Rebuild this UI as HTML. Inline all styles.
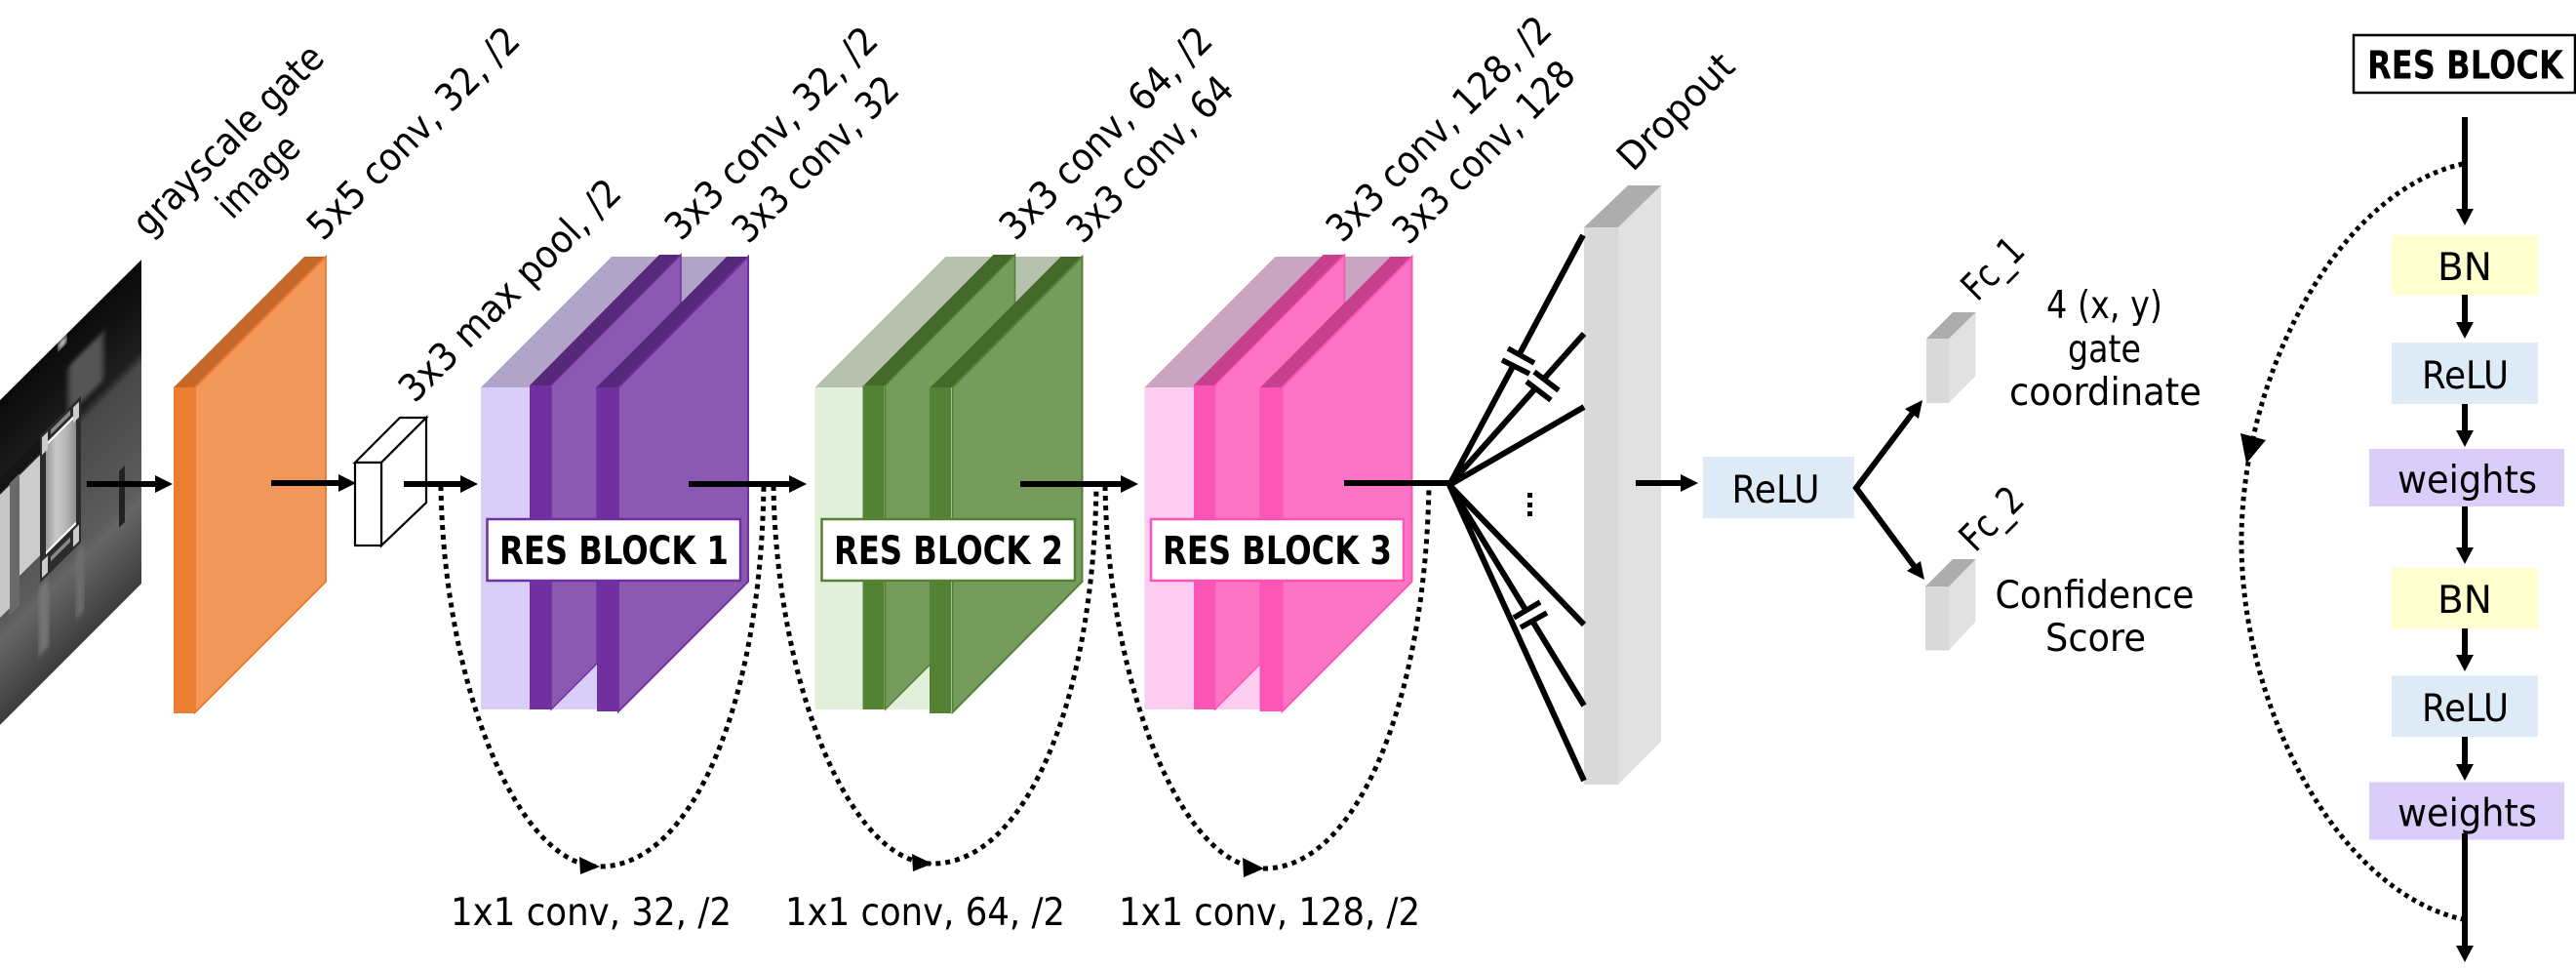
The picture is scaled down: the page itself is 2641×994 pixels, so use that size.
<!DOCTYPE html>
<html><head><meta charset="utf-8"><style>
html,body{margin:0;padding:0;background:#fff}
svg{display:block}
text{font-family:"DejaVu Sans","Liberation Sans",sans-serif;font-size:39px;fill:#000}
.b{font-weight:bold;font-size:40px}
</style></head><body>
<svg width="2641" height="994" viewBox="0 0 2641 994" xmlns="http://www.w3.org/2000/svg">
<defs>
<clipPath id="ph"><polygon points="0,410 145,266 145,598 0,743"/></clipPath>
<linearGradient id="bg" x1="0" y1="0" x2="0" y2="1">
<stop offset="0" stop-color="#0a0a0a"/><stop offset=".28" stop-color="#1e1e1e"/><stop offset=".32" stop-color="#484848"/><stop offset=".7" stop-color="#5c5c5c"/><stop offset=".74" stop-color="#666"/><stop offset="1" stop-color="#3c3c3c"/></linearGradient>
<linearGradient id="gt" x1="0" y1="0" x2="1" y2="0"><stop offset="0" stop-color="#9a9a9a"/><stop offset=".35" stop-color="#c8c8c8"/><stop offset=".7" stop-color="#b4b4b4"/><stop offset="1" stop-color="#8c8c8c"/></linearGradient>
<filter id="bl"><feGaussianBlur stdDeviation="3"/></filter>
</defs>

<!-- photo -->
<g clip-path="url(#ph)"><g transform="matrix(1,-0.993,0,1,0,0)">
<rect x="0" y="410" width="145" height="333" fill="url(#bg)"/>
<rect x="70" y="445" width="36" height="50" fill="#555" filter="url(#bl)"/>
<rect x="0" y="507" width="10" height="126" fill="#c8c8c8"/>
<rect x="20" y="507" width="21" height="103" fill="#cccccc"/>
<rect x="10" y="500" width="10" height="140" fill="#6a6a6a"/>
<rect x="0" y="490" width="42" height="15" fill="#141414"/>
<rect x="41" y="488" width="42" height="150" fill="#2c2c2c"/>
<rect x="47" y="503" width="31" height="110" fill="url(#gt)"/>
<rect x="47" y="501" width="31" height="3" fill="#fff"/><rect x="47" y="612" width="31" height="3" fill="#fff"/>
<rect x="43" y="491" width="6" height="18" fill="#ccc"/><rect x="75" y="492" width="6" height="16" fill="#ccc"/>
<rect x="43" y="618" width="6" height="17" fill="#ccc"/><rect x="75" y="618" width="6" height="17" fill="#ccc"/>
<rect x="52" y="492" width="20" height="5" fill="#888"/><rect x="52" y="622" width="20" height="5" fill="#888"/>
<rect x="122" y="604" width="6" height="58" fill="#222"/>
<rect x="60" y="411" width="8" height="8" fill="#fff" filter="url(#bl)"/>
<rect x="40" y="642" width="10" height="70" fill="#777" filter="url(#bl)"/>
<rect x="78" y="642" width="8" height="70" fill="#707070" filter="url(#bl)"/>
</g></g>

<!-- orange -->
<polygon points="178,397 312,263 334,263 200,397" fill="#c5682a"/>
<polygon points="200,397 334,263 334,596 200,730" fill="#f1975a" stroke="#ed7d31" stroke-width="2"/>
<rect x="178" y="397" width="22" height="334" fill="#ed7d31"/>

<!-- small box -->
<g fill="#fff" stroke="#000" stroke-width="2.200" stroke-linejoin="miter">
<polygon points="364,474 391,474 437,428 410,428"/>
<polygon points="391,474 437,428 437,515 391,559"/>
<rect x="364" y="474" width="27" height="85"/>
</g>

<!-- purple block -->
<g>
<rect x="493" y="397" width="122" height="330" fill="#d9cdf9"/>
<polygon points="493,397 627,263 745,263 612,397" fill="#b0a5c8"/>
<polygon points="543,395 676,261 698,261 565,395" fill="#56287a"/>
<polygon points="565,395 698,261 698,314 612,397 612,680 565,727" fill="#8b59b1" stroke="#7030a0" stroke-width="1.500"/>
<rect x="543" y="395" width="22" height="332" fill="#7030a0"/>
<polygon points="612,397 745,263 767,263 634,397" fill="#56287a"/>
<polygon points="634,397 767,263 767,596 634,729" fill="#8b59b1" stroke="#7030a0" stroke-width="2"/>
<rect x="612" y="397" width="22" height="332" fill="#7030a0"/>
</g>
<rect x="499.500" y="532" width="259.500" height="63" fill="#fff" stroke="#7030a0" stroke-width="2.500"/>
<text class="b" x="512" y="578" textLength="235" lengthAdjust="spacingAndGlyphs">RES BLOCK 1</text>

<!-- green block -->
<g transform="translate(342.500,0)">
<rect x="493" y="397" width="122" height="330" fill="#e2efda"/>
<polygon points="493,397 627,263 745,263 612,397" fill="#b7c2ae"/>
<polygon points="543,395 676,261 698,261 565,395" fill="#436a2a"/>
<polygon points="565,395 698,261 698,314 612,397 612,680 565,727" fill="#769c5d" stroke="#548235" stroke-width="1.500"/>
<rect x="542" y="395" width="22" height="332" fill="#548235"/>
<polygon points="612,397 745,263 767,263 634,397" fill="#436a2a"/>
<polygon points="634,397 767,263 767,596 634,730" fill="#769c5d" stroke="#548235" stroke-width="2"/>
<rect x="610.500" y="397" width="22" height="334" fill="#548235"/>
</g>
<rect x="842.500" y="532" width="259.500" height="63" fill="#fff" stroke="#548235" stroke-width="2.500"/>
<text class="b" x="855" y="578" textLength="235" lengthAdjust="spacingAndGlyphs">RES BLOCK 2</text>

<!-- pink block -->
<g transform="translate(680.500,0)">
<rect x="493" y="397" width="122" height="330" fill="#fccdf1"/>
<polygon points="493,397 627,263 745,263 612,397" fill="#c9a5c1"/>
<polygon points="543,395 676,261 698,261 565,395" fill="#c6408e"/>
<polygon points="565,395 698,261 698,314 612,397 612,680 565,727" fill="#fc74c3" stroke="#fc55b5" stroke-width="1.500"/>
<rect x="543.500" y="395" width="22" height="332" fill="#fc55b5"/>
<polygon points="612,397 745,263 767,263 634,397" fill="#c6408e"/>
<polygon points="634,397 767,263 767,596 634,729" fill="#fc74c3" stroke="#fc55b5" stroke-width="2"/>
<rect x="611" y="397" width="22" height="332" fill="#fc55b5"/>
</g>
<rect x="1180" y="532" width="259" height="63" fill="#fff" stroke="#fc55b5" stroke-width="2.500"/>
<text class="b" x="1192" y="578" textLength="235" lengthAdjust="spacingAndGlyphs">RES BLOCK 3</text>

<!-- dropout -->
<polygon points="1659,233 1703,190 1703,760 1659,804" fill="#e1e1e1"/>
<polygon points="1624,233 1669,190 1703,190 1659,233" fill="#adadad"/>
<rect x="1624" y="233" width="35" height="571" fill="#d9d9d9"/>

<!-- Fc boxes -->
<polygon points="1998,347 2025.500,320 2025.500,385 1998,413" fill="#e1e1e1"/>
<polygon points="1975,347 2002,320 2025.500,320 1998,347" fill="#adadad"/>
<rect x="1975" y="347" width="23" height="66" fill="#d9d9d9"/>
<polygon points="1998,601 2025.500,573 2025.500,637 1998,666.500" fill="#e1e1e1"/>
<polygon points="1974,601 2002,573 2025.500,573 1998,601" fill="#adadad"/>
<rect x="1974" y="601" width="24" height="65.500" fill="#d9d9d9"/>

<!-- ReLU -->
<rect x="1746" y="468" width="155" height="63" fill="#deebf7"/>
<text x="1775.500" y="515" textLength="90" lengthAdjust="spacingAndGlyphs">ReLU</text>

<!-- main arrows -->
<g stroke="#000" stroke-width="6" fill="none">
<path d="M89 496H162"/><path d="M278 495H350"/><path d="M414 496H475"/><path d="M706 496H812"/><path d="M1046 496H1152"/><path d="M1677 495H1726"/>
<path d="M1378 495H1486"/>
<path d="M1961 423L1903 500L1963 581"/>
</g>
<g fill="#000">
<polygon points="177,496 159,487 159,505"/>
<polygon points="365,495 347,486 347,504"/>
<polygon points="490,496 472,487 472,505"/>
<polygon points="827,496 809,487 809,505"/>
<polygon points="1167,496 1149,487 1149,505"/>
<polygon points="1741,495 1723,486 1723,504"/>
<polygon points="1971,410 1967,429 1953,419"/>
<polygon points="1973,594 1955,585 1969,575"/>
</g>

<!-- fan -->
<g stroke="#000" stroke-width="6" fill="none">
<path d="M1486 497L1623 241"/><path d="M1486 497L1624 342"/><path d="M1486 497L1624 417"/>
<path d="M1486 497L1624 640"/><path d="M1486 497L1624 723"/><path d="M1486 497L1624 800"/>
</g>
<g stroke="#fff" stroke-width="14">
<path d="M1543 363L1570 377"/><path d="M1569 386L1594 405"/><path d="M1555 638L1582 622"/>
</g>
<g stroke="#000" stroke-width="5.500">
<path d="M1546 357L1573 372M1540 369L1568 383"/>
<path d="M1573 381L1598 400M1565 391L1590 410"/>
<path d="M1552 633L1579 617M1559 643L1586 628"/>
</g>
<g fill="#000"><rect x="1566" y="505" width="5" height="5"/><rect x="1566" y="515" width="5" height="5"/><rect x="1566" y="524" width="5" height="5"/></g>

<!-- dotted skips -->
<g fill="none" stroke="#000" stroke-width="5" stroke-dasharray="5 5">
<path d="M452 498C455 700 530 888 615 888C710 888 780 720 783 498"/>
<path d="M793 498C796 700 871 885 956 885C1051 885 1121 720 1124 498"/>
<path d="M1133 498C1136 700 1211 890 1296 890C1391 890 1461 720 1465 498"/>
</g>
<g fill="#000">
<polygon points="615,888 594,878 595,896"/>
<polygon points="956,885 935,875 936,893"/>
<polygon points="1296,890 1274,879 1275,899"/>
</g>

<!-- right stack -->
<rect x="2413" y="36" width="227" height="59" fill="#fff" stroke="#000" stroke-width="2.500"/>
<text class="b" x="2427" y="80.500" textLength="201" lengthAdjust="spacingAndGlyphs">RES BLOCK</text>
<rect x="2452" y="241" width="150" height="61.500" fill="#ffffd0"/>
<rect x="2452" y="351" width="150" height="63" fill="#deebf7"/>
<rect x="2429" y="460" width="200" height="59" fill="#dacdf9"/>
<rect x="2452" y="582" width="150" height="62" fill="#ffffd0"/>
<rect x="2452" y="692.500" width="150" height="62.500" fill="#deebf7"/>
<rect x="2429" y="801.500" width="200" height="59" fill="#dacdf9"/>
<text x="2527" y="287" text-anchor="middle">BN</text>
<text x="2483" y="398" textLength="89" lengthAdjust="spacingAndGlyphs">ReLU</text>
<text x="2458" y="505" textLength="143" lengthAdjust="spacingAndGlyphs">weights</text>
<text x="2527" y="628" text-anchor="middle">BN</text>
<text x="2483" y="739" textLength="89" lengthAdjust="spacingAndGlyphs">ReLU</text>
<text x="2458" y="846.500" textLength="143" lengthAdjust="spacingAndGlyphs">weights</text>
<g stroke="#000" stroke-width="6" fill="none">
<path d="M2527 120V216"/><path d="M2527 302V332"/><path d="M2527 414V443"/><path d="M2527 519V563"/><path d="M2527 644V673"/><path d="M2527 755V785"/><path d="M2527 854V972"/>
</g>
<g fill="#000">
<polygon points="2527,231 2518,214 2536,214"/>
<polygon points="2527,347 2518,330 2536,330"/>
<polygon points="2527,458 2518,441 2536,441"/>
<polygon points="2527,578 2518,561 2536,561"/>
<polygon points="2527,688 2518,671 2536,671"/>
<polygon points="2527,800 2518,783 2536,783"/>
<polygon points="2527,986 2518,969 2536,969"/>
<polygon points="2303,475 2297,444 2323,451"/>
</g>
<path d="M2525 168C2400 195 2298 380 2298 555C2298 730 2400 915 2525 942" fill="none" stroke="#000" stroke-width="5" stroke-dasharray="4.500 4.500"/>

<!-- horizontal labels -->
<text x="462" y="948" textLength="288" lengthAdjust="spacingAndGlyphs">1x1 conv, 32, /2</text>
<text x="805" y="948" textLength="287" lengthAdjust="spacingAndGlyphs">1x1 conv, 64, /2</text>
<text x="1147" y="948" textLength="309" lengthAdjust="spacingAndGlyphs">1x1 conv, 128, /2</text>
<text x="2098" y="326" textLength="119" lengthAdjust="spacingAndGlyphs">4 (x, y)</text>
<text x="2120" y="371" textLength="75" lengthAdjust="spacingAndGlyphs">gate</text>
<text x="2060" y="415" textLength="197" lengthAdjust="spacingAndGlyphs">coordinate</text>
<text x="2045.500" y="623" textLength="204" lengthAdjust="spacingAndGlyphs">Confidence</text>
<text x="2097" y="667" textLength="103" lengthAdjust="spacingAndGlyphs">Score</text>

<!-- rotated labels -->
<text transform="translate(152,244) rotate(-45)" textLength="258" lengthAdjust="spacingAndGlyphs">grayscale gate</text>
<text transform="translate(238,226) rotate(-45)" textLength="102" lengthAdjust="spacingAndGlyphs">image</text>
<text transform="translate(331,248) rotate(-45)" textLength="289" lengthAdjust="spacingAndGlyphs">5x5 conv, 32, /2</text>
<text transform="translate(425,414) rotate(-45)" textLength="303" lengthAdjust="spacingAndGlyphs">3x3 max pool, /2</text>
<text transform="translate(698,248) rotate(-45)" textLength="289" lengthAdjust="spacingAndGlyphs">3x3 conv, 32, /2</text>
<text transform="translate(767,251) rotate(-45)" textLength="222" lengthAdjust="spacingAndGlyphs">3x3 conv, 32</text>
<text transform="translate(1041,248) rotate(-45)" textLength="289" lengthAdjust="spacingAndGlyphs">3x3 conv, 64, /2</text>
<text transform="translate(1110,251) rotate(-45)" textLength="222" lengthAdjust="spacingAndGlyphs">3x3 conv, 64</text>
<text transform="translate(1376,250) rotate(-45)" textLength="307" lengthAdjust="spacingAndGlyphs">3x3 conv, 128, /2</text>
<text transform="translate(1444,252) rotate(-45)" textLength="245" lengthAdjust="spacingAndGlyphs">3x3 conv, 128</text>
<text transform="translate(1674,177) rotate(-45)" textLength="151" lengthAdjust="spacingAndGlyphs">Dropout</text>
<text transform="translate(2027,310) rotate(-45)" textLength="72" lengthAdjust="spacingAndGlyphs">Fc_1</text>
<text transform="translate(2025,567) rotate(-45)" textLength="74" lengthAdjust="spacingAndGlyphs">Fc_2</text>
</svg>
</body></html>
